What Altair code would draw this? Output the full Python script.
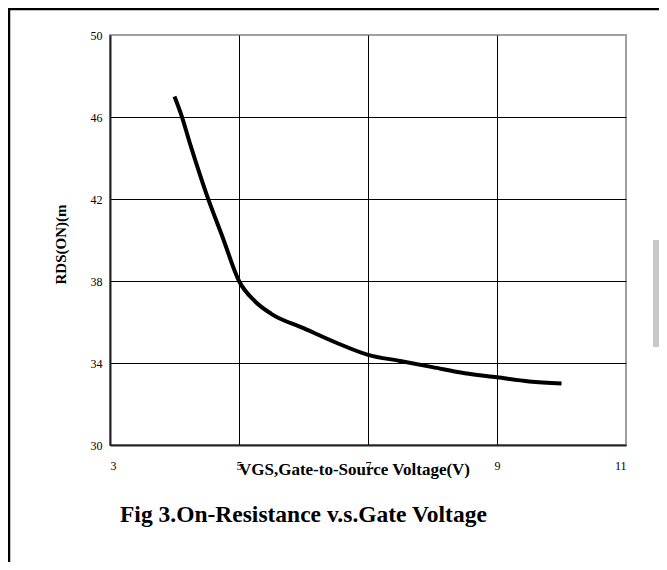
import altair as alt
import pandas as pd

vgs = [4.0, 4.1, 4.25, 4.5, 4.75, 5.0, 5.25, 5.5, 6.0, 6.5, 7.0, 7.5, 8.0, 8.5, 9.0, 9.5, 10.0]
rds = [47.0, 46.15, 44.6, 42.2, 40.1, 38.0, 37.0, 36.4, 35.7, 35.0, 34.4, 34.1, 33.8, 33.5, 33.3, 33.1, 33.0]
x_ticks = [3, 5, 7, 9, 11]
y_ticks = [30, 34, 38, 42, 46, 50]
title_text = ["Fig 3.On-Resistance v.s.Gate Voltage"]

FONT = "Liberation Serif"

df = pd.DataFrame({"vgs": vgs, "rds": rds})

x_axis = alt.Axis(
    values=x_ticks, title="VGS,Gate-to-Source Voltage(V)",
    grid=True, gridColor="black", gridWidth=1,
    gridOpacity={"condition": {"test": "datum.value == 11", "value": 0}, "value": 1},
    domainColor="#222222", domainWidth=2, ticks=False,
    labelFont=FONT, labelFontSize=12, labelColor="black", labelPadding=15,
    titleFont=FONT, titleFontSize=17, titleFontWeight="bold", titleColor="black",
    titleX=244, titleY=24, titleBaseline="middle", titleAlign="center",
)
y_axis = alt.Axis(
    values=y_ticks, title="RDS(ON)(m",
    grid=True, gridColor="black", gridWidth=1,
    gridOpacity={"condition": {"test": "datum.value == 50", "value": 0}, "value": 1},
    domainColor="#222222", domainWidth=2, ticks=False,
    labelFont=FONT, labelFontSize=12, labelColor="black", labelPadding=8,
    titleFont=FONT, titleFontSize=15, titleFontWeight="bold", titleColor="black",
    titleX=-50, titleY=209, titleBaseline="middle", titleAlign="center", titleAngle=-90,
)

line = alt.Chart(df).mark_line(color="black", strokeWidth=4, interpolate="monotone").encode(
    x=alt.X("vgs:Q", scale=alt.Scale(domain=[3, 11], nice=False), axis=x_axis),
    y=alt.Y("rds:Q", scale=alt.Scale(domain=[30, 50], nice=False), axis=y_axis),
)

title = alt.Chart(pd.DataFrame({"t": title_text})).mark_text(
    font=FONT, fontSize=23.5, fontWeight="bold", color="black", align="left", baseline="alphabetic"
).encode(text="t:N", x=alt.value(10), y=alt.value(487))

frame_left = alt.Chart(pd.DataFrame({"a": [0]})).mark_rule(color="black", strokeWidth=2.5).encode(
    x=alt.value(-101), y=alt.value(-26), y2=alt.value(600)
)
frame_top = alt.Chart(pd.DataFrame({"a": [0]})).mark_rule(color="black", strokeWidth=2.5).encode(
    y=alt.value(-26), x=alt.value(-102), x2=alt.value(700)
)
blob = alt.Chart(pd.DataFrame({"a": [0]})).mark_rect(color="#c8c8c8").encode(
    x=alt.value(543), x2=alt.value(570), y=alt.value(205), y2=alt.value(312)
)

chart = alt.layer(line, title, frame_left, frame_top, blob).properties(
    width=516, height=410,
    padding={"left": 102, "top": 27, "right": 33, "bottom": 117},
    autosize="none",
).configure_view(stroke="#a0a0a0", strokeWidth=2)

chart.save("out.html", embed_options={"renderer": "svg", "actions": False})
